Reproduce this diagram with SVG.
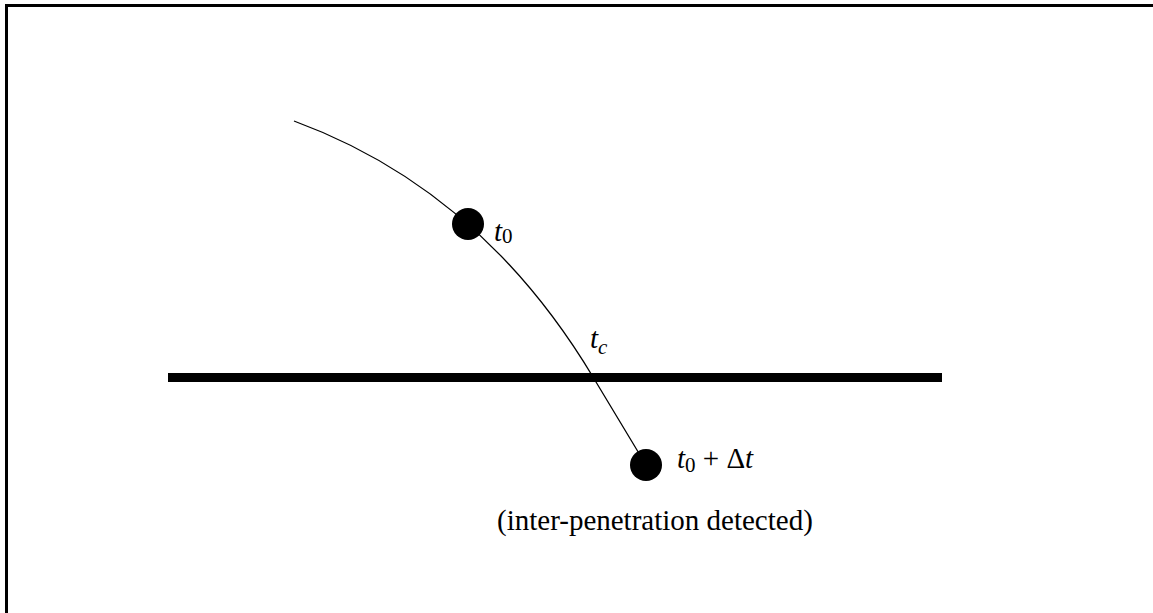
<svg xmlns="http://www.w3.org/2000/svg" width="1153" height="613" viewBox="0 0 1153 613">
<style>
.lbl{font-family:"Liberation Serif","Times New Roman",serif;font-size:29px;fill:#000}
.it{font-style:italic}
.sub{font-size:21px;font-style:normal}
.subi{font-size:21px;font-style:italic}
</style>
<rect x="0" y="0" width="1153" height="613" fill="#fff"/>
<rect x="6.5" y="5.5" width="1300" height="800" fill="none" stroke="#000" stroke-width="3"/>
<g id="surface">
<rect x="168" y="373" width="774" height="9" fill="#000"/>
</g>
<g id="connectors">
<path d="M294,121 C414,165 515,247 593,377 L646,465" fill="none" stroke="#000" stroke-width="1.3"/>
</g>
<g id="p0">
<circle cx="468" cy="224" r="16" fill="#000"/>
<text class="lbl" x="494" y="241"><tspan class="it">t</tspan><tspan class="sub" dy="2">0</tspan></text>
</g>
<g id="pc">
<text class="lbl" x="590" y="348"><tspan class="it">t</tspan><tspan class="subi" dy="6">c</tspan></text>
</g>
<g id="p1">
<circle cx="646" cy="465" r="16" fill="#000"/>
<text class="lbl" x="677" y="468"><tspan class="it">t</tspan><tspan class="sub" dy="4">0</tspan><tspan dy="-4"> + Δ</tspan><tspan class="it">t</tspan></text>
<text class="lbl" x="497" y="530">(inter-penetration detected)</text>
</g>
</svg>
